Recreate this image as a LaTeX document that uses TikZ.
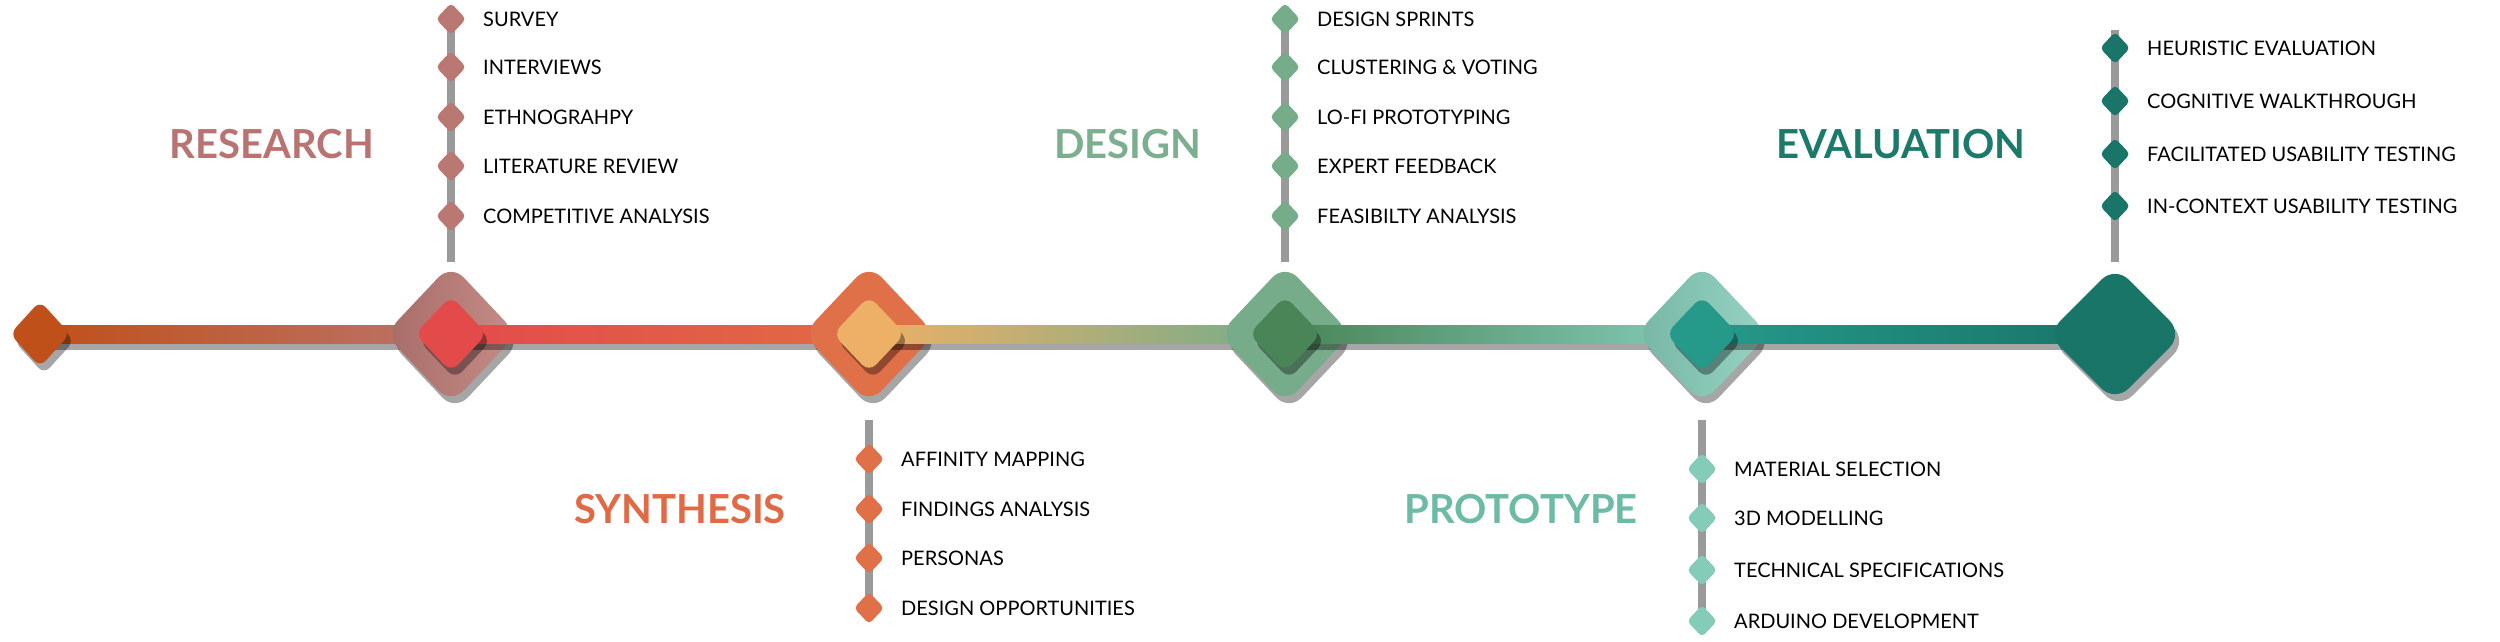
\documentclass[tikz,border=0pt]{standalone}
\usepackage{fontspec}
\setmainfont{Lato}
\usetikzlibrary{shadows}
\definecolor{cA}{HTML}{C0501A}
\definecolor{resL}{HTML}{B87470}\definecolor{resB}{HTML}{BA7873}\definecolor{resI}{HTML}{E34B4B}
\definecolor{synL}{HTML}{E06A45}\definecolor{synB}{HTML}{E07048}\definecolor{synI}{HTML}{EDB066}
\definecolor{desL}{HTML}{7BAF8F}\definecolor{desB}{HTML}{76AC8A}\definecolor{desI}{HTML}{4A8558}
\definecolor{proL}{HTML}{6DBBA6}\definecolor{proB}{HTML}{84CBB8}\definecolor{proI}{HTML}{25998A}
\definecolor{evaL}{HTML}{1B7A6A}\definecolor{evaB}{HTML}{187568}
\definecolor{stemc}{HTML}{9A9A9A}
\tikzset{
  shad/.style={drop shadow={shadow xshift=4pt,shadow yshift=-7pt,opacity=.35,fill=black}},
  phase/.style={font=\fontsize{40}{44}\selectfont\bfseries, inner sep=0pt},
  item/.style={font=\fontsize{20}{24}\selectfont, anchor=west, inner sep=0pt},
  stemline/.style={stemc, line width=8pt},
}
% rounded diamond: #1 center, #2 half width, #3 half height, #4 style
\newcommand{\rdiam}[4]{\path[#4, rounded corners=#2*0.28pt] ($(#1)+(-#2pt,0)$) -- ($(#1)+(0,#3pt)$) -- ($(#1)+(#2pt,0)$) -- ($(#1)+(0,-#3pt)$) -- cycle;}
\usetikzlibrary{calc}
\begin{document}
\begin{tikzpicture}[x=1pt,y=1pt]
\useasboundingbox (0,0) rectangle (2500,-641);
\def\ly{-334}
\coordinate (s0) at (40,\ly);
\coordinate (r) at (451,\ly);
\coordinate (sy) at (869,\ly);
\coordinate (d) at (1285,\ly);
\coordinate (p) at (1702,\ly);
\coordinate (e) at (2115,\ly);
% stems
\coordinate (rt) at (451,-12); \coordinate (rb) at (451,-262);
\draw[stemline] (rt) -- (rb);
\coordinate (dt) at (1285,-12); \coordinate (db) at (1285,-262);
\draw[stemline] (dt) -- (db);
\coordinate (et) at (2115,-30); \coordinate (eb) at (2115,-262);
\draw[stemline] (et) -- (eb);
\coordinate (st) at (869,-420); \coordinate (sb) at (869,-615);
\draw[stemline] (st) -- (sb);
\coordinate (pt) at (1702,-420); \coordinate (pb) at (1702,-628);
\draw[stemline] (pt) -- (pb);
% line segments
\shade[shad,left color=cA,right color=resB!90!cA] ($(s0)+(0,9)$) rectangle ($(r)+(0,-9)$);
\rdiam{s0}{30}{33}{fill=cA,shad}
\rdiam{r}{66}{70}{shad,left color=resB!90!black,right color=resB!85!white}
\shade[shad,left color=resI,right color=synB!95!red] ($(r)+(0,9)$) rectangle ($(sy)+(0,-9)$);
\rdiam{r}{36}{38}{fill=resI,shad}
\rdiam{sy}{66}{70}{fill=synB,shad}
\shade[shad,left color=synI,right color=desB] ($(sy)+(0,9)$) rectangle ($(d)+(0,-9)$);
\rdiam{sy}{36}{38}{fill=synI,shad}
\rdiam{d}{66}{70}{fill=desB,shad}
\shade[shad,left color=desI,right color=proB] ($(d)+(0,9)$) rectangle ($(p)+(0,-9)$);
\rdiam{d}{36}{38}{fill=desI,shad}
\rdiam{p}{66}{70}{shad,left color=proB!90!black,right color=proB!85!white}
\shade[shad,left color=proI,right color=evaB] ($(p)+(0,9)$) rectangle ($(e)+(0,-9)$);
\rdiam{p}{36}{38}{fill=proI,shad}
\rdiam{e}{68}{68}{fill=evaB,shad}
% phase labels
\node[phase,text=resL] (lr) at (272,-144) {RESEARCH};
\node[phase,text=synL] (ls) at (680,-509) {SYNTHESIS};
\node[phase,text=desL] (ld) at (1128,-144) {DESIGN};
\node[phase,text=proL] (lp) at (1521,-509) {PROTOTYPE};
\node[phase,text=evaL] (le) at (1901,-144) {EVALUATION};
% items
\foreach \y/\t [count=\i] in {19/SURVEY,67/INTERVIEWS,117/ETHNOGRAHPY,166/LITERATURE REVIEW,216/COMPETITIVE ANALYSIS}{
  \coordinate (ri\i) at (451,-\y); \rdiam{ri\i}{15}{16}{fill=resB}
  \node[item] (rt\i) at (483,-\y) {\t};}
\foreach \y/\t [count=\i] in {459/AFFINITY MAPPING,509/FINDINGS ANALYSIS,558/PERSONAS,608/DESIGN OPPORTUNITIES}{
  \coordinate (si\i) at (869,-\y); \rdiam{si\i}{15}{16}{fill=synB}
  \node[item] (stx\i) at (901,-\y) {\t};}
\foreach \y/\t [count=\i] in {19/DESIGN SPRINTS,67/CLUSTERING \& VOTING,117/LO-FI PROTOTYPING,166/EXPERT FEEDBACK,216/FEASIBILTY ANALYSIS}{
  \coordinate (di\i) at (1285,-\y); \rdiam{di\i}{15}{16}{fill=desB}
  \node[item] (dtx\i) at (1317,-\y) {\t};}
\foreach \y/\t [count=\i] in {469/MATERIAL SELECTION,518/3D MODELLING,570/TECHNICAL SPECIFICATIONS,621/ARDUINO DEVELOPMENT}{
  \coordinate (pi\i) at (1702,-\y); \rdiam{pi\i}{15}{16}{fill=proB}
  \node[item] (ptx\i) at (1734,-\y) {\t};}
\foreach \y/\t [count=\i] in {48/HEURISTIC EVALUATION,101/COGNITIVE WALKTHROUGH,154/FACILITATED USABILITY TESTING,206/IN-CONTEXT USABILITY TESTING}{
  \coordinate (ei\i) at (2115,-\y); \rdiam{ei\i}{15}{16}{fill=evaB}
  \node[item] (etx\i) at (2147,-\y) {\t};}
\end{tikzpicture}
\end{document}
